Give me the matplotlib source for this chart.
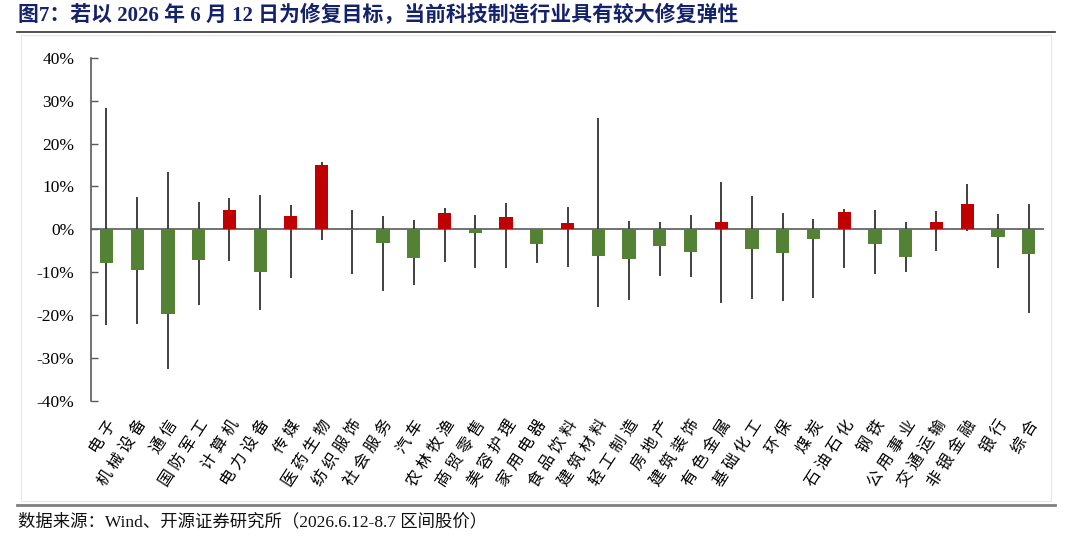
import matplotlib.pyplot as plt
import numpy as np

industries = ["电子", "机械设备", "通信", "国防军工", "计算机", "电力设备", "传媒", "医药生物",
              "纺织服饰", "社会服务", "汽车", "农林牧渔", "商贸零售", "美容护理", "家用电器",
              "食品饮料", "建筑材料", "轻工制造", "房地产", "建筑装饰", "有色金属", "基础化工",
              "环保", "煤炭", "石油石化", "钢铁", "公用事业", "交通运输", "非银金融", "银行", "综合"]

# current return vs. the 2026-06-12 level (%)
current = [-7.9, -9.4, -19.8, -7.1, 4.4, -10.0, 3.1, 15.1,
           -0.2, -3.3, -6.7, 3.7, -0.9, 2.9, -3.5,
           1.5, -6.2, -6.9, -4.0, -5.3, 1.8, -4.7,
           -5.5, -2.2, 4.1, -3.4, -6.5, 1.6, 5.9, -1.9, -5.8]
# interval high / low (%)
high = [28.3, 7.5, 13.5, 6.3, 7.2, 8.0, 5.7, 15.8,
        4.5, 3.0, 2.1, 4.9, 3.4, 6.1, 0.0,
        5.1, 26.0, 1.9, 1.6, 3.4, 11.1, 7.8,
        3.7, 2.3, 4.8, 4.4, 1.8, 4.3, 10.5, 3.5, 6.0]
low = [-22.4, -22.1, -32.5, -17.7, -7.3, -18.9, -11.3, -2.5,
       -10.4, -14.3, -13.1, -7.6, -9.0, -9.1, -7.8,
       -8.8, -18.2, -16.4, -10.8, -11.2, -17.1, -16.2,
       -16.8, -16.1, -9.1, -10.4, -10.0, -5.1, -0.3, -9.0, -19.5]

plt.rcParams['font.family'] = ['Liberation Serif', 'Noto Sans CJK SC']

fig = plt.figure(figsize=(10.8, 5.45), dpi=100)
ax = fig.add_axes([0.0843, 0.2648, 0.8824, 0.6288])

x = np.arange(len(industries))
cur = np.array(current) / 100
colors = ["#C00000" if v > 0 else "#548235" for v in cur]

ax.vlines(x, np.array(low) / 100, np.array(high) / 100, color="#404040", lw=1.4, zorder=2)
ax.bar(x, cur, width=0.43, color=colors, zorder=3)
ax.axhline(0, color="#595959", lw=1.2, zorder=1)

ax.set_xlim(-0.5, len(industries) - 0.5)
ax.set_ylim(-0.4, 0.4)
ax.set_yticks(np.arange(-0.4, 0.41, 0.1))
ax.set_yticklabels([f"{int(round(v * 100))}%" for v in np.arange(-0.4, 0.41, 0.1)])
ax.tick_params(axis='y', direction='in', length=5, width=1, color="#595959", labelsize=12.5, pad=12)
ax.set_xticks(x)
# spaced characters, like the wide letter spacing of the original labels
ax.set_xticklabels([" ".join(s) for s in industries], rotation=57, ha='right', va='top',
                   rotation_mode='anchor', fontsize=11.5)
ax.tick_params(axis='x', length=0, pad=12)

for s in ["top", "right", "bottom"]:
    ax.spines[s].set_visible(False)
ax.spines["left"].set_color("#595959")
ax.spines["left"].set_linewidth(1.2)

# title, frame and source
fig.text(0.017, 0.972, "图7：若以 2026 年 6 月 12 日为修复目标，当前科技制造行业具有较大修复弹性",
         fontsize=15, fontweight='bold', color="#14226B", va='center')
fig.add_artist(plt.Line2D([0.016, 0.977], [1 - 32 / 545, 1 - 32 / 545], color="#333333", lw=1.2))
fig.add_artist(plt.Rectangle((21 / 1080, 1 - 501 / 545), 1030 / 1080, 466 / 545,
                             fill=False, edgecolor="#E6E6E6", lw=0.8))
fig.add_artist(plt.Line2D([0.016, 0.977], [1 - 505 / 545, 1 - 505 / 545], color="#808080", lw=2))
fig.text(0.017, 1 - 522 / 545, "数据来源：Wind、开源证券研究所（2026.6.12-8.7 区间股价）",
         fontsize=12.5, color="#111111", va='center')

fig.savefig("out.png", dpi=100)
